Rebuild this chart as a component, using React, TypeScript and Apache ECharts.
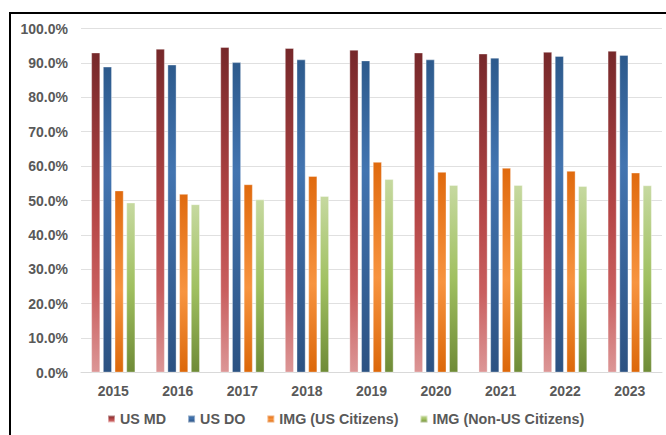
import React, { useEffect, useRef } from "react";
import * as echarts from "echarts";

const years = ["2015", "2016", "2017", "2018", "2019", "2020", "2021", "2022", "2023"];
const seriesNames = ["US MD", "US DO", "IMG (US Citizens)", "IMG (Non-US Citizens)"];
const usMD = [93.0, 94.1, 94.6, 94.3, 93.8, 93.0, 92.7, 93.2, 93.5];
const usDO = [88.9, 89.5, 90.2, 91.0, 90.7, 91.0, 91.5, 92.0, 92.3];
const imgUS = [52.9, 51.9, 54.7, 57.1, 61.2, 58.3, 59.5, 58.6, 58.1];
const imgNonUS = [49.4, 48.9, 50.3, 51.3, 56.2, 54.5, 54.5, 54.2, 54.4];

const FONT = "'Liberation Sans', Arial, sans-serif";
const TXT = "#595959";

function grad(stops: [number, string][]) {
  return new echarts.graphic.LinearGradient(
    0, 0, 0, 1,
    stops.map(([offset, color]) => ({ offset, color }))
  );
}

const fills = [
  grad([[0, "#76282a"], [0.5, "#b54646"], [0.75, "#c95f5f"], [1, "#dc9696"]]),
  grad([[0, "#2d5a8c"], [0.35, "#4274b0"], [1, "#2c5282"]]),
  grad([[0, "#e06a0e"], [0.55, "#f79440"], [1, "#dc680a"]]),
  grad([[0, "#c6d9a0"], [0.5, "#a0c060"], [1, "#6f8b37"]]),
];

export default function App() {
  const ref = useRef<HTMLDivElement>(null);
  useEffect(() => {
    if (!ref.current) return;
    const chart = echarts.init(ref.current, null, { renderer: "svg" });
    const data = [usMD, usDO, imgUS, imgNonUS];
    chart.setOption({
      animation: false,
      backgroundColor: "#ffffff",
      grid: { left: 81, right: 4, top: 28.5, bottom: 62.5, containLabel: false },
      graphic: [
        {
          type: "rect",
          shape: { x: 10, y: 13, width: 720, height: 500 },
          style: { fill: "none", stroke: "#000000", lineWidth: 2 },
          z: 100,
        },
      ],
      legend: {
        data: seriesNames,
        left: 102,
        top: 407,
        itemWidth: 7,
        itemHeight: 7,
        itemGap: 21,
        icon: "rect",
        textStyle: { fontFamily: FONT, fontSize: 14.3, fontWeight: "bold", color: TXT },
      },
      xAxis: {
        type: "category",
        data: years,
        axisLine: { show: true, lineStyle: { color: "#d9d9d9", width: 1 } },
        axisTick: { show: false },
        axisLabel: {
          fontFamily: FONT,
          fontSize: 14,
          fontWeight: "bold",
          color: TXT,
          margin: 11,
        },
      },
      yAxis: {
        type: "value",
        min: 0,
        max: 100,
        interval: 10,
        axisLine: { show: false },
        axisTick: { show: false },
        splitLine: { lineStyle: { color: "#e0e0e0", width: 1 } },
        axisLabel: {
          fontFamily: FONT,
          fontSize: 14,
          fontWeight: "bold",
          color: TXT,
          margin: 13,
          formatter: (v: number) => v.toFixed(1) + "%",
        },
      },
      series: seriesNames.map((name, i) => ({
        name,
        type: "bar",
        data: data[i],
        barWidth: 9,
        barGap: "30%",
        itemStyle: {
          color: fills[i],
          borderColor: "rgba(255,255,255,0.45)",
          borderWidth: 0.8,
        },
      })),
    });
    return () => chart.dispose();
  }, []);
  return (
    <div
      ref={ref}
      style={{ position: "fixed", left: 0, top: 0, width: 666, height: 435 }}
    />
  );
}
